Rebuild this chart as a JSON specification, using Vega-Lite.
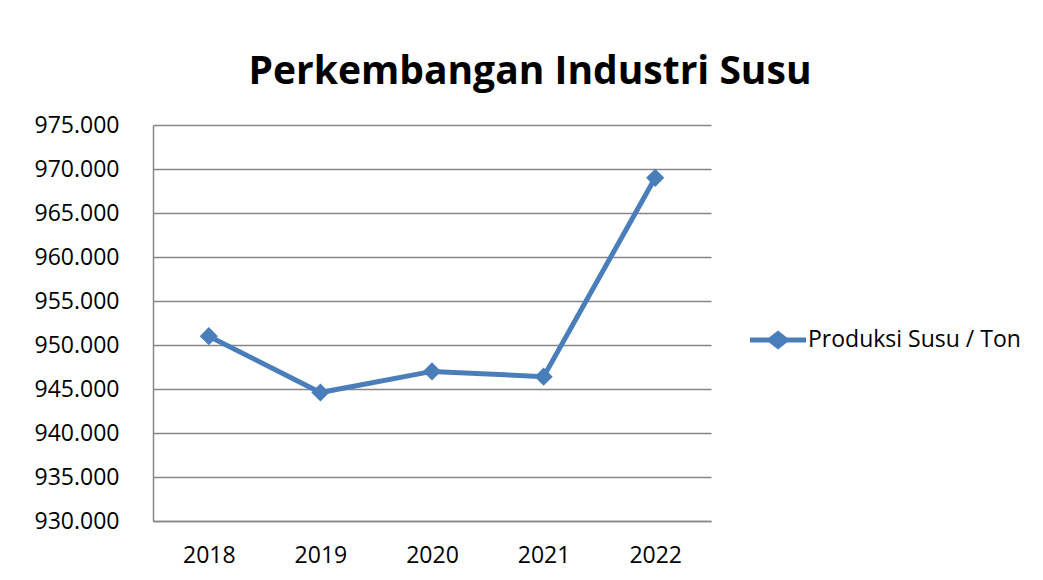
{
  "$schema": "https://vega.github.io/schema/vega-lite/v6.json",
  "width": 558,
  "height": 396,
  "autosize": {"type": "none"},
  "padding": {"left": 153, "top": 125, "right": 332, "bottom": 59},
  "background": "white",
  "title": {
    "text": "Perkembangan Industri Susu",
    "font": "Open Sans",
    "fontWeight": "bold",
    "fontSize": 39,
    "color": "#000000",
    "anchor": "middle",
    "dx": 98,
    "offset": 22
  },
  "data": {
    "values": [
      {"tahun": "2018", "produksi": 951000, "seri": "Produksi Susu / Ton"},
      {"tahun": "2019", "produksi": 944600, "seri": "Produksi Susu / Ton"},
      {"tahun": "2020", "produksi": 947000, "seri": "Produksi Susu / Ton"},
      {"tahun": "2021", "produksi": 946400, "seri": "Produksi Susu / Ton"},
      {"tahun": "2022", "produksi": 969000, "seri": "Produksi Susu / Ton"}
    ]
  },
  "mark": {
    "type": "line",
    "strokeWidth": 5,
    "point": {"filled": true, "shape": "diamond", "size": 330}
  },
  "encoding": {
    "x": {
      "field": "tahun",
      "type": "ordinal",
      "scale": {"type": "point", "padding": 0.5},
      "axis": {
        "title": null,
        "labelAngle": 0,
        "ticks": false,
        "labelPadding": 23,
        "labelFont": "Open Sans",
        "labelFontSize": 23,
        "labelColor": "#000000",
        "domainColor": "#868686",
        "domainWidth": 1.5,
        "grid": false
      }
    },
    "y": {
      "field": "produksi",
      "type": "quantitative",
      "scale": {"domain": [930000, 975000], "nice": false, "zero": false},
      "axis": {
        "title": null,
        "values": [930000, 935000, 940000, 945000, 950000, 955000, 960000, 965000, 970000, 975000],
        "labelExpr": "replace(format(datum.value, ','), ',', '.')",
        "ticks": false,
        "labelPadding": 34,
        "labelFont": "Open Sans",
        "labelFontSize": 23,
        "labelColor": "#000000",
        "domainColor": "#868686",
        "domainWidth": 1.5,
        "grid": true,
        "gridColor": "#868686",
        "gridWidth": 1.5
      }
    },
    "color": {
      "field": "seri",
      "type": "nominal",
      "scale": {"range": ["#4A7EBB"]},
      "legend": {
        "title": null,
        "orient": "none",
        "legendX": 612,
        "legendY": 202,
        "symbolType": "M-2.2,-0.2 L-0.7,-0.2 L0,-0.75 L0.7,-0.2 L2.2,-0.2 L2.2,0.2 L0.7,0.2 L0,0.75 L-0.7,0.2 L-2.2,0.2 Z",
        "symbolSize": 650,
        "symbolFillColor": "#4A7EBB",
        "symbolStrokeWidth": 0,
        "labelFont": "Open Sans",
        "labelFontSize": 23,
        "labelColor": "#000000",
        "labelOffset": 17,
        "labelLimit": 400
      }
    }
  },
  "config": {
    "view": {"stroke": null}
  }
}
